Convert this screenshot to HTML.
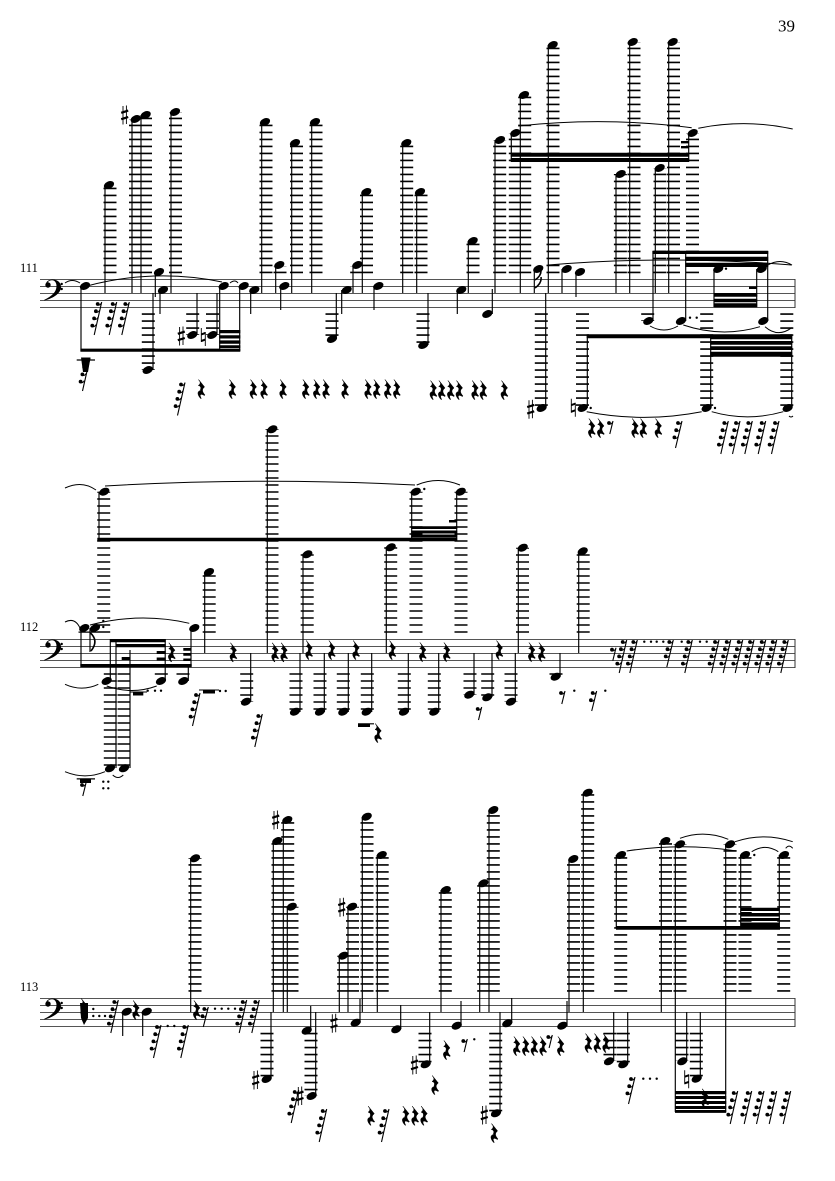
<!DOCTYPE html>
<html><head><meta charset="utf-8"><title>Score page 39</title>
<style>html,body{margin:0;padding:0;background:#fff}svg{display:block}text{font-family:"Liberation Serif",serif;fill:#000}</style></head>
<body>
<svg xmlns="http://www.w3.org/2000/svg" width="835" height="1181" viewBox="0 0 835 1181">
<defs>
<ellipse id="n" cx="0" cy="0" rx="5.4" ry="3.6" transform="rotate(-25)"/>
<path id="q" stroke="#000" stroke-width=".5" d="M-2.7-9.5L3.3-2C.7 0 .2 2 3.7 6L3 6.5C0 4.5-2.5 5 0 9.5L-.7 9.5C-4 6-4.5 2-.5 1.5L-1 1C0-1-.5-3-3-3.5C-.7-5-.5-7-2.7-9Z"/>
<g id="sh" fill="none" stroke="#000"><path d="M-1.7-9V9.5M1.7-9.5V9" stroke-width=".9"/><path d="M-3.5-2.2L3.5-4.4M-3.5 4.2L3.5 2" stroke-width="2.2"/></g>
<g id="na" fill="none" stroke="#000"><path d="M-2-9V5M2-5V9" stroke-width=".9"/><path d="M-2-2.6L2-4M-2 4L2 2.6" stroke-width="2"/></g>
<g id="f"><circle cx="-4" cy="2" r="1.9"/><path d="M-4 3Q-1.5 3.6-.3 1" fill="none" stroke="#000" stroke-width="1"/></g>
<g id="r8"><path d="M0 0L-3.2 13" stroke="#000" stroke-width="1.1"/><use href="#f"/></g>
<g id="r16"><path d="M0 0L-5 20" stroke="#000" stroke-width="1.1"/><use href="#f"/><use href="#f" x="-1.8" y="7.2"/></g>
<g id="r32"><path d="M0 0L-6.5 27" stroke="#000" stroke-width="1.1"/><use href="#f"/><use href="#f" x="-1.8" y="7.2"/><use href="#f" x="-3.6" y="14.4"/></g>
<g id="r64"><path d="M0 0L-7.5 33" stroke="#000" stroke-width="1.1"/><use href="#f"/><use href="#f" x="-1.8" y="7.2"/><use href="#f" x="-3.6" y="14.4"/><use href="#f" x="-5.4" y="21.6"/></g>
<g id="clef"><path d="M46 7C45 2 50 .5 52.5 .5C58 .5 61 4 61 8C61 14 54 19 44.5 21.5L44 21C52 17 56.5 13 56.5 7C56.5 3.5 54.5 1.3 52 1.3C49.5 1.3 47.5 3 47.5 4Z"/><circle cx="48" cy="6" r="2.7"/><circle cx="61.7" cy="5" r="1.2"/><circle cx="61.7" cy="10" r="1.2"/></g>
</defs>

<text x="795" y="31.5" font-size="17" text-anchor="end">39</text>
<text x="20" y="272" font-size="12.5">111</text>
<text x="20" y="631" font-size="12.5">112</text>
<text x="20" y="991" font-size="12.5">113</text>

<!-- staves -->
<path fill="none" stroke="#555" stroke-width="1" d="M40 279.5H795M40 286.5H795M40 293.5H795M40 300.5H795M40 307.5H795M40 639.5H795M40 646.5H795M40 653.5H795M40 660.5H795M40 667.5H795M40 998.5H795M40 1005.5H795M40 1012.5H795M40 1019.5H795M40 1026.5H795"/>
<path fill="none" stroke="#333" stroke-width="1" d="M795 279V308M795 639V668M795 998V1027"/>
<use href="#clef" y="279"/><use href="#clef" y="639"/><use href="#clef" y="998"/>

<!-- ledger stacks -->
<path fill="none" stroke="#000" stroke-width="13" stroke-dasharray="1.6 5.4" d="
M110 273.2V185M135.5 273.2V119M145.5 273.2V115M175.5 273.2V112M266 273.2V122M296.5 273.2V143M316 273.2V122M366.5 273.2V192M406.7 273.2V143M421 273.2V192M473 273.2V241M499.7 273.2V140M515.3 273.2V133M524.7 273.2V95M553 273.2V45M620.4 273.2V174M634 273.2V42M660 273.2V168M673.5 273.2V42M692.5 273.2V133M280 273.2V266M356.7 273.2V266
M148.3 313.3V370M192.7 313.3V335M212.5 313.3V335M332 313.3V339M423 313.3V345M541.3 313.3V408M582.5 313.3V408M647.7 313.3V321M706.7 313.3V408M786.8 313.3V408
M103.7 632.8V491.7M272 632.8V429M209.2 632.8V572M307.2 632.8V554M390.7 632.8V547M416 632.8V491.7M461 632.8V491.7M522.5 632.8V547.7M583.2 632.8V551.3M85 632.8V631.5M95 632.8V631.5
M110.3 673.2V768M124 673.2V768M161.3 673.2V675M183 673.2V675M246.7 673.2V701.7M296 673.2V711.7M320 673.2V711.7M343.3 673.2V711.7M367.3 673.2V711.7M404.3 673.2V711.7M434.3 673.2V711.7M470 673.2V694.7M487.7 673.2V697.3M511 673.2V701.7M556 673.2V675
M195 991.7V858M278 991.7V841M287.7 991.7V820M292 991.7V906.7M343.7 991.7V955.7M352.5 991.7V906.7M367 991.7V816.7M382.2 991.7V855M445.3 991.7V890M483.7 991.7V883.3M493.3 991.7V810M573.5 991.7V859M587.7 991.7V792.7M620.7 991.7V855M665.5 991.7V841M680 991.7V844.3M730 991.7V844.3M745 991.7V855M783.7 991.7V855
M267 1032.8V1079M311 1032.8V1096M425 1032.8V1064M495.7 1032.8V1113M610 1032.8V1061M623.3 1032.8V1064M682 1032.8V1061M696.3 1032.8V1079"/>

<!-- stems -->
<path fill="none" stroke="#000" stroke-width="1.15" d="
M81 286V351M105 185V293M132 119V293M141 115V293M171 112V293M155.3 272V297M160 290V314M153 293V370M197 293V335M217 293V335M219.7 286V351M239.7 286V351M250.7 290V314M261.7 122V293M275.7 265V293M280.7 286V310M291.7 143V293M311.7 122V293M336.3 293V339M341.7 290V314M353 265V293M362.3 192V293M374 286V310M402.7 143V293M416.7 192V293M428 293V345M457.3 290V314M468.3 241V293M492.3 289V314M495 140V293M511.3 133V161M520.3 95V293M548.3 45V293M545.7 293V408M534.3 269V293M562 269V293M576 272V297M587.3 335V408M616 174V293M629.7 42V293M655.3 168V293M668.7 42V293M688.7 133V161M653 251V321M685.7 251V321M710.7 336V408M767.7 251V321M714 269V307M756.7 269V307M791.7 336V408
M81 628V666M191 628V666M99 491.7V541M267.3 429V653M204.7 572V653M303 554V653M386.3 547V653M411.7 491.7V541M456.7 491.7V541M518.3 547.7V653M578.7 551.3V653M90 628V652M110.3 639V681M116 640V768M130 650V768M165.2 639V681M188.3 667V681M250.7 653V702M300 653V712M324.3 653V712M348.3 653V712M371.7 653V712M408.3 653V712M438.7 653V712M474 653V695M492 653V697M515.3 653V702M560 653V677
M122.7 1012V1036M142.7 1012V1036M190.7 858V1012M271 1012V1079M273.3 841V1012M283.3 820V1012M287.3 907V1012M310.7 1006V1031M315.7 1012V1096M339.3 956V1012M348 907V1012M360 999V1023M362.3 817V1012M377.3 855V1012M400.7 1005V1029M429.7 1012V1064M441 890V1012M461 1001V1026M479.7 883V1012M489 810V1012M511.7 998V1023M500 1012V1113M567 1001V1026M569 859V1012M583.3 793V1012M613.7 1012V1061M627.7 1012V1064M616.3 855V928M661.3 841V1012M675.3 844V1112M725.7 844V1112M740.7 855V928M779.3 855V928M686.7 1012V1061M700.3 1012V1079"/>
<path fill="none" stroke="#000" stroke-width="1.6" d="M535 280Q541 276 541 271M535 288Q542 283 541 277M90.5 633Q99 641 91 651"/>

<!-- beams -->
<path d="M80.4 348.6H240.3V351.8H80.4ZM219.2 330H240.3V333.3H219.2ZM219.2 335.2H240.3V338.5H219.2ZM219.2 340.4H240.3V343.7H219.2ZM219.2 345.3H240.3V348H219.2Z
M510.7 152.7H689.2V156.7H510.7ZM510.7 158H689.2V162H510.7ZM681 141H689V143.4H681ZM681 146H689V148.4H681Z
M652.4 250.7H768.2V254H652.4ZM685.2 256.7H768.2V261H685.2ZM685.2 262.7H768.2V267H685.2ZM714 293H757.2V296.7H714ZM714 298.7H757.2V302.3H714ZM714 303.3H757.2V307.3H714ZM749 286.5H756.7V289H749Z
M586.7 334.3H792.2V338.3H586.7ZM710.2 334.3H792.2V339.3H710.2ZM710.2 341H792.2V344.7H710.2ZM710.2 346.3H792.2V350H710.2ZM710.2 351.7H792.2V356.7H710.2Z
M97.3 537.7H457.2V541.3H97.3ZM411.2 526.2H457.2V529H411.2ZM411.2 530.5H457.2V533.5H411.2ZM411.2 534.5H457.2V537.5H411.2ZM449 520H456.7V522.5H449Z
M80.3 664H191.7V667.2H80.3ZM110 639H165.7V642.2H110ZM116 644H165.7V647.3H116ZM121.7 657H130V660H121.7ZM156.7 651H165.7V654H156.7ZM156.7 657.5H165.7V660.5H156.7ZM183.3 648H191V650.7H183.3ZM183.3 653H191V655.7H183.3ZM183.3 658.5H191V661H183.3Z
M616 926H780V929.7H616ZM740.7 907.7H779.8V911H740.7ZM740.7 913H779.8V916.5H740.7ZM740.7 918H779.8V921H740.7ZM740.7 922.5H779.8V926H740.7ZM740.7 912H751.7V914H740.7Z
M675 1091H726.2V1094.3H675ZM675 1096H726.2V1099H675ZM675 1101H726.2V1104H675ZM675 1106H726.2V1109H675ZM675 1110H726.2V1112.9H675Z"/>

<!-- ties and slurs -->
<path fill="none" stroke="#000" stroke-width="1" d="M65 283Q72 278 80 283M87 286Q155 268 222 282M230 283Q235 279 238 283M518.3 126Q605 116.5 691.7 127.7M698.3 128.3Q745 118.7 792.7 129M548.3 265Q670 255 791.7 265M768 265Q780 258 792 265M650 326Q664 334 678 326M683.3 325Q722 338 760 326.7M765 326.7Q778 338 791.7 327.7M586.7 411.7Q644 423 701.7 411.7M711.7 411.7Q747.5 422 783.3 411.7M789 416Q791 418 793 416
M65 488Q82 480 96 490M105 486Q260 477 415 485M416.7 485Q438 476 460 485M65 622Q75 617 80 628M90 625Q140 612 189.3 623.3M65 684.3Q82 692 98.3 684.3M106.7 686Q132 695 156.7 686M65 771.7Q85 780 105 771.7M112.7 775Q118 780 123.3 775
M626.7 851Q682 842.5 736.7 851M680 838.3Q704 829.5 728.3 839.3M735 841.7Q764 832 792.7 841.7M751.7 851.7Q765 843 778.3 851.7M785.7 848.3Q789 844 792.7 848.3"/>

<!-- noteheads -->
<g>
<use href="#n" x="85" y="286"/><use href="#n" x="109" y="185"/><use href="#n" x="135.7" y="119"/><use href="#n" x="145.7" y="115"/><use href="#n" x="175" y="112"/><use href="#n" x="159" y="272"/><use href="#n" x="163" y="290"/><use href="#n" x="147.7" y="370"/><use href="#n" x="192.3" y="335"/><use href="#n" x="212.3" y="335"/><use href="#n" x="223.7" y="286"/><use href="#n" x="243.7" y="286"/><use href="#n" x="254.3" y="290"/><use href="#n" x="265" y="122"/><use href="#n" x="279.3" y="265"/><use href="#n" x="284.3" y="286"/><use href="#n" x="295" y="143"/><use href="#n" x="315" y="122"/><use href="#n" x="332" y="339"/><use href="#n" x="346.7" y="290"/><use href="#n" x="357.3" y="265"/><use href="#n" x="366.3" y="192"/><use href="#n" x="378.3" y="286"/><use href="#n" x="406.3" y="143"/><use href="#n" x="420" y="192"/><use href="#n" x="423.3" y="345"/><use href="#n" x="461.3" y="290"/><use href="#n" x="472.7" y="241"/><use href="#n" x="487.3" y="314"/><use href="#n" x="500" y="140"/><use href="#n" x="515.3" y="133"/><use href="#n" x="524" y="95"/><use href="#n" x="552.7" y="45"/><use href="#n" x="541.7" y="408"/><use href="#n" x="538.3" y="269"/><use href="#n" x="566.7" y="269"/><use href="#n" x="580" y="272"/><use href="#n" x="582.7" y="408"/><use href="#n" x="620.7" y="174"/><use href="#n" x="632.7" y="42"/><use href="#n" x="659.7" y="168"/><use href="#n" x="672.7" y="42"/><use href="#n" x="692.7" y="133"/><use href="#n" x="648.3" y="321"/><use href="#n" x="681" y="321"/><use href="#n" x="706.7" y="408"/><use href="#n" x="763.3" y="321"/><use href="#n" x="718.3" y="269"/><use href="#n" x="761.7" y="269"/><use href="#n" x="787.7" y="408"/>

<use href="#n" x="104.3" y="491.7"/><use href="#n" x="272.3" y="429.3"/><use href="#n" x="209" y="572"/><use href="#n" x="307.3" y="554.3"/><use href="#n" x="390.7" y="547.3"/><use href="#n" x="415.7" y="491.7"/><use href="#n" x="460.7" y="491.7"/><use href="#n" x="522.7" y="547.7"/><use href="#n" x="582.7" y="551.3"/><use href="#n" x="84.3" y="628"/><use href="#n" x="95" y="628"/><use href="#n" x="194.3" y="628"/><use href="#n" x="106.7" y="681"/><use href="#n" x="110" y="768.3"/><use href="#n" x="124" y="768.3"/><use href="#n" x="161" y="681"/><use href="#n" x="183.3" y="681"/><use href="#n" x="246" y="701.7"/><use href="#n" x="295" y="711.7"/><use href="#n" x="320" y="711.7"/><use href="#n" x="343.3" y="711.7"/><use href="#n" x="366.7" y="711.7"/><use href="#n" x="404" y="711.7"/><use href="#n" x="434.3" y="711.7"/><use href="#n" x="469.3" y="694.7"/><use href="#n" x="487.3" y="697.3"/><use href="#n" x="511" y="701.7"/><use href="#n" x="555.7" y="676.7"/>

<use href="#n" x="126.7" y="1011.7"/><use href="#n" x="146.7" y="1011.7"/><use href="#n" x="195" y="858.3"/><use href="#n" x="266.7" y="1079"/><use href="#n" x="277.3" y="841"/><use href="#n" x="287.3" y="820"/><use href="#n" x="291.7" y="906.7"/><use href="#n" x="306.7" y="1030.7"/><use href="#n" x="311.7" y="1096"/><use href="#n" x="343.3" y="955.7"/><use href="#n" x="352" y="906.7"/><use href="#n" x="355.7" y="1022.7"/><use href="#n" x="366.7" y="816.7"/><use href="#n" x="381.7" y="855"/><use href="#n" x="396.3" y="1029.3"/><use href="#n" x="425.7" y="1064.3"/><use href="#n" x="445.7" y="890"/><use href="#n" x="456.7" y="1025.7"/><use href="#n" x="483.3" y="883.3"/><use href="#n" x="493.3" y="810"/><use href="#n" x="507.3" y="1023.3"/><use href="#n" x="496" y="1113.3"/><use href="#n" x="562.3" y="1025.7"/><use href="#n" x="573.3" y="859"/><use href="#n" x="587.7" y="792.7"/><use href="#n" x="609" y="1061.3"/><use href="#n" x="623.3" y="1064.3"/><use href="#n" x="621" y="855"/><use href="#n" x="665.3" y="841"/><use href="#n" x="680" y="844.3"/><use href="#n" x="730" y="844.3"/><use href="#n" x="745" y="855"/><use href="#n" x="784" y="855"/><use href="#n" x="682.3" y="1061.3"/><use href="#n" x="696.7" y="1078.7"/>
</g>

<!-- accidentals -->
<use href="#sh" x="124.7" y="115"/><use href="#sh" x="181.3" y="336"/><use href="#na" x="203.3" y="337"/><use href="#sh" x="530.7" y="409.3"/><use href="#na" x="573.3" y="407.7"/>
<use href="#sh" x="275.7" y="820"/><use href="#sh" x="255.7" y="1080"/><use href="#sh" x="300" y="1096"/><use href="#sh" x="341.7" y="907.3"/><use href="#sh" x="334" y="1023.3"/><use href="#sh" x="414.5" y="1065"/><use href="#sh" x="484.3" y="1115"/><use href="#na" x="686.7" y="1079.3"/>

<!-- dots -->
<g>
<circle cx="726" cy="268.7" r="1.2"/><circle cx="690" cy="317.7" r="1.2"/><circle cx="696.7" cy="317.7" r="1.2"/><circle cx="590.7" cy="408" r="1.2"/><circle cx="715" cy="408" r="1.2"/>
<circle cx="424.3" cy="489" r="1.2"/><circle cx="103.3" cy="627" r="1.2"/><circle cx="103.3" cy="621" r="1.2"/><circle cx="147.7" cy="690.7" r="1.2"/><circle cx="155" cy="690.7" r="1.2"/><circle cx="161" cy="690.7" r="1.2"/><circle cx="220" cy="691" r="1.2"/><circle cx="225.7" cy="691" r="1.2"/><circle cx="574.3" cy="690.7" r="1.2"/><circle cx="605.3" cy="690.7" r="1.2"/>
<circle cx="644.3" cy="641.7" r="1.2"/><circle cx="651" cy="641.7" r="1.2"/><circle cx="656.7" cy="641.7" r="1.2"/><circle cx="663.3" cy="641.7" r="1.2"/><circle cx="681.7" cy="641.7" r="1.2"/><circle cx="700" cy="641.7" r="1.2"/><circle cx="706.7" cy="641.7" r="1.2"/>
<circle cx="103.3" cy="781.7" r="1.2"/><circle cx="108.3" cy="781.7" r="1.2"/><circle cx="103.3" cy="788.3" r="1.2"/><circle cx="108.3" cy="788.3" r="1.2"/>
<circle cx="93.3" cy="1009" r="1.2"/><circle cx="93.3" cy="1016" r="1.2"/><circle cx="99.3" cy="1016" r="1.2"/><circle cx="105" cy="1016" r="1.2"/><circle cx="167.7" cy="1026" r="1.2"/><circle cx="174.3" cy="1026" r="1.2"/><circle cx="215" cy="1008.7" r="1.2"/><circle cx="221.7" cy="1008.7" r="1.2"/><circle cx="228.3" cy="1008.7" r="1.2"/><circle cx="235" cy="1008.7" r="1.2"/><circle cx="474.3" cy="1039.3" r="1.2"/><circle cx="643.3" cy="1078.7" r="1.2"/><circle cx="650" cy="1078.7" r="1.2"/><circle cx="656.7" cy="1078.7" r="1.2"/><circle cx="754.3" cy="855" r="1.2"/>
</g>

<!-- rests -->
<g>
<use href="#r64" x="101.7" y="302"/><use href="#r64" x="116.7" y="302"/><use href="#r64" x="129.3" y="302"/><use href="#r64" x="90" y="358"/><use href="#r64" x="185" y="382.5"/>
<use href="#q" x="201.3" y="389"/><use href="#q" x="232.3" y="389"/><use href="#q" x="253.3" y="389"/><use href="#q" x="264" y="389"/><use href="#q" x="283" y="389"/><use href="#q" x="305.7" y="389"/><use href="#q" x="316.7" y="389"/><use href="#q" x="326" y="389"/><use href="#q" x="345" y="389"/><use href="#q" x="368" y="389"/><use href="#q" x="376.7" y="389"/><use href="#q" x="387.7" y="389"/><use href="#q" x="396.7" y="389"/><use href="#q" x="433.3" y="390"/><use href="#q" x="441.7" y="390"/><use href="#q" x="450.7" y="390"/><use href="#q" x="459.3" y="390"/><use href="#q" x="475" y="390"/><use href="#q" x="483.3" y="390"/><use href="#q" x="504.3" y="390"/>
<use href="#q" x="591.7" y="428"/><use href="#q" x="600.7" y="428"/><use href="#r8" x="613" y="421"/><use href="#q" x="635" y="428"/><use href="#q" x="643.3" y="428"/><use href="#q" x="658.3" y="428"/><use href="#r32" x="682" y="421"/>
<use href="#r64" x="728.3" y="421"/><use href="#r64" x="740" y="421"/><use href="#r64" x="752.3" y="421"/><use href="#r64" x="765.7" y="421"/><use href="#r64" x="779" y="421"/>

<use href="#q" x="171.7" y="652.3"/><use href="#q" x="233.3" y="652.3"/><use href="#q" x="275" y="652.3"/><use href="#q" x="284" y="652.3"/><use href="#q" x="309" y="650"/><use href="#q" x="331.7" y="650"/><use href="#q" x="356" y="650"/><use href="#q" x="392.3" y="650"/><use href="#q" x="422.7" y="652"/><use href="#q" x="446.7" y="652"/><use href="#q" x="499.3" y="650"/><use href="#q" x="531.7" y="652"/><use href="#q" x="541.7" y="652"/>
<use href="#r8" x="616" y="647.7"/><use href="#r64" x="626.7" y="640"/><use href="#r64" x="637.3" y="640"/><use href="#r32" x="673.3" y="640"/><use href="#r64" x="692.3" y="640"/><use href="#r64" x="719" y="640"/><use href="#r64" x="730.7" y="640"/><use href="#r64" x="742.7" y="640"/><use href="#r64" x="754" y="640"/><use href="#r64" x="765.7" y="640"/><use href="#r64" x="776.7" y="640"/><use href="#r64" x="788.3" y="640"/>
<use href="#r64" x="200" y="693"/><use href="#r64" x="262.3" y="714"/><use href="#q" x="378" y="733"/><use href="#r8" x="481.7" y="707"/><use href="#r8" x="565" y="691"/><use href="#r16" x="596.7" y="691"/><use href="#r8" x="86" y="783"/>

<use href="#r64" x="118.3" y="1000"/><use href="#q" x="136" y="1010"/><use href="#r64" x="161" y="1025"/><use href="#r64" x="188.3" y="1025"/><use href="#q" x="196.7" y="1010"/><use href="#r16" x="208.3" y="1007"/><use href="#r64" x="246.7" y="1000"/><use href="#r64" x="259.3" y="1000"/><use href="#q" x="84" y="1008"/>
<use href="#r64" x="298.7" y="1090"/><use href="#r64" x="326.7" y="1109"/><use href="#r64" x="389" y="1109"/><use href="#q" x="371" y="1115.7"/><use href="#q" x="405.7" y="1115.7"/><use href="#q" x="415" y="1115.7"/><use href="#q" x="424" y="1115.7"/><use href="#q" x="446.7" y="1050"/><use href="#r8" x="467.3" y="1039"/><use href="#q" x="435" y="1085"/><use href="#q" x="494.3" y="1133"/>
<use href="#q" x="516.7" y="1046"/><use href="#q" x="525.7" y="1046"/><use href="#q" x="534.3" y="1046"/><use href="#q" x="543" y="1046"/><use href="#r8" x="552.3" y="1035"/><use href="#q" x="560.7" y="1046"/><use href="#q" x="588.3" y="1043"/><use href="#q" x="597.3" y="1043"/><use href="#q" x="606" y="1043"/><use href="#r32" x="635" y="1077"/><use href="#q" x="705" y="1098.3"/>
<use href="#r64" x="737.7" y="1091"/><use href="#r64" x="751.7" y="1091"/><use href="#r64" x="764" y="1091"/><use href="#r64" x="776.7" y="1091"/><use href="#r64" x="790.7" y="1091"/>
</g>

<!-- blobs, half rests -->
<path d="M81 357.5H90.5L88 372H83ZM76.7 359.4H95V360.6H76.7ZM80 778.5H91V783H80ZM76.7 778.3H95V779.5H76.7ZM133 692H143.3V695.5H133ZM130 691.5H147V692.5H130ZM203 690H215V693.5H203ZM199 689.5H219V690.5H199ZM358 723.5H370V727H358ZM358 723.3H374V724.4H358ZM80 1003H88V1018L84 1025L81 1018Z"/>
</svg>
</body></html>
